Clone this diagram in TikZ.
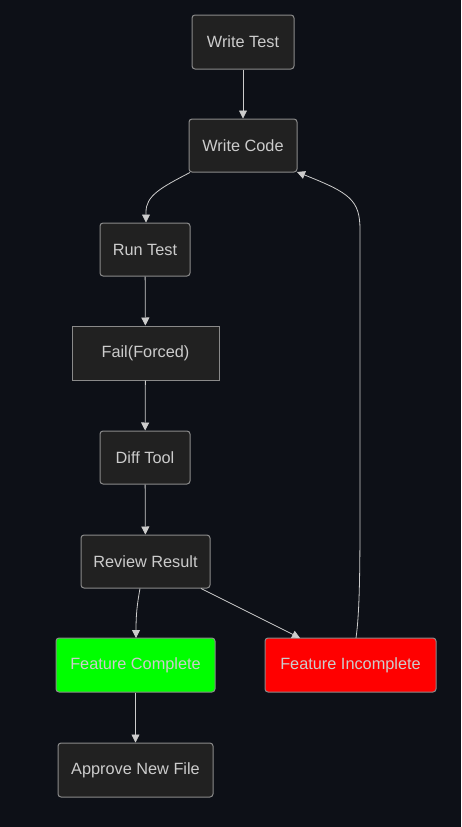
\documentclass[tikz,border=0pt]{standalone}
\usepackage{fontspec}
\setmainfont{Liberation Sans}
\usetikzlibrary{arrows.meta}
\definecolor{bgc}{HTML}{0D1017}
\definecolor{nodefill}{HTML}{212121}
\definecolor{nodeline}{HTML}{8A8A8A}
\definecolor{txt}{HTML}{CCCCCC}
\definecolor{edgec}{HTML}{CCCCCC}
\definecolor{okgreen}{HTML}{00FF00}
\definecolor{badred}{HTML}{FF0000}
\tikzset{
  box/.style={draw=nodeline, line width=1pt, fill=nodefill, rounded corners=3pt,
    text=txt, font=\fontsize{16.3}{18}\selectfont, inner sep=0pt, anchor=center},
  sqbox/.style={box, rounded corners=0pt},
  edge/.style={draw=edgec, line width=0.8pt, -{Triangle[length=8pt,width=8pt]}},
}
\begin{document}
\begin{tikzpicture}[x=1pt,y=-1pt]
\fill[bgc] (0,0) rectangle (461,827);
\useasboundingbox (0,0) rectangle (461,827);
\node[box, minimum width=102pt, minimum height=54pt] (wt) at (243,42) {Write Test};
\node[box, minimum width=108pt, minimum height=53pt] (wc) at (243,145.5) {Write Code};
\node[box, minimum width=90pt, minimum height=53pt] (rt) at (145,249.5) {Run Test};
\node[sqbox, minimum width=147pt, minimum height=54pt] (ff) at (145.5,353) {Fail(Forced)};
\node[box, minimum width=90pt, minimum height=53pt] (dt) at (145,457.5) {Diff Tool};
\node[box, minimum width=129pt, minimum height=53pt] (rr) at (145.5,561.5) {Review Result};
\node[box, fill=okgreen, minimum width=159pt, minimum height=54pt] (fc) at (135.5,665) {Feature Complete};
\node[box, fill=badred, minimum width=171pt, minimum height=54pt] (fi) at (350.5,665) {Feature Incomplete};
\node[box, minimum width=155pt, minimum height=54pt] (an) at (135.5,770) {Approve New File};
\coordinate (wcA) at (190,172.5);
\coordinate (rtA) at (146,222.5);
\coordinate (rrA) at (140,588.5);
\coordinate (fcA) at (136,638);
\coordinate (rrB) at (201,588.5);
\coordinate (fiB) at (300,638);
\coordinate (fiC) at (356,638);
\coordinate (wcC) at (297,172);
\draw[edge] (wt) -- (wc);
\draw[edge] (wcA) .. controls (160,188) and (146,196) .. (146,212) -- (rtA);
\draw[edge] (rt) -- (ff);
\draw[edge] (ff) -- (dt);
\draw[edge] (dt) -- (rr);
\draw[edge] (rrA) .. controls (137,605) and (136,615) .. (fcA);
\draw[edge] (rrB) -- (fiB);
\draw[edge] (fiC) .. controls (360,610) and (360,560) .. (360,500) -- (360,230) .. controls (360,200) and (350,193) .. (wcC);
\draw[edge] (fc) -- (an);
\end{tikzpicture}
\end{document}
